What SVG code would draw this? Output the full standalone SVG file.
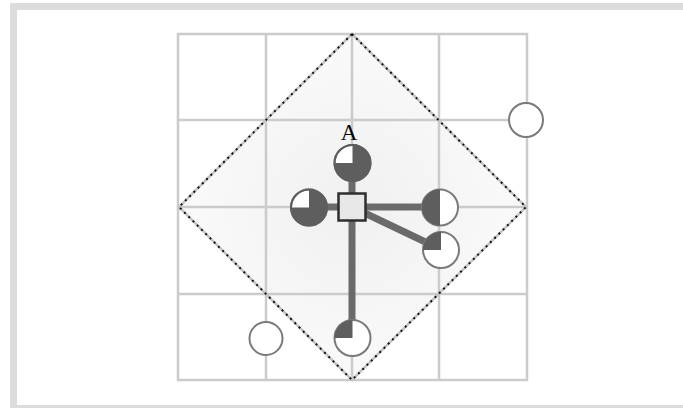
<svg xmlns="http://www.w3.org/2000/svg" width="683" height="408" viewBox="0 0 683 408">
<style>
.grid{stroke:#cbcbcb;stroke-width:2.5;fill:none}
.conn{stroke:#6a6a6a;stroke-width:7;fill:none}
.ring{fill:#ffffff;stroke:#7a7a7a;stroke-width:2}
.dark{fill:#5e5e5e}
.lbl{font-family:"Liberation Serif",serif;font-size:23px;fill:#000}
</style>
<defs>
<radialGradient id="dg" cx="0.5" cy="0.5" r="0.6">
<stop offset="0" stop-color="#f0f0f0"/>
<stop offset="1" stop-color="#fcfcfc"/>
</radialGradient>
</defs>
<rect width="683" height="408" fill="#ffffff"/>
<rect x="13.5" y="6.5" width="720" height="402" fill="none" stroke="#dcdcdc" stroke-width="7"/>
<g id="diamond-fill">
<polygon points="352,34 526,207 352,380 179,207" fill="url(#dg)"/>
</g>
<g id="grid">
<rect x="178" y="34" width="349" height="346" class="grid"/>
<line x1="266" y1="34" x2="266" y2="380" class="grid"/>
<line x1="352" y1="34" x2="352" y2="380" class="grid"/>
<line x1="439" y1="34" x2="439" y2="380" class="grid"/>
<line x1="178" y1="120" x2="527" y2="120" class="grid"/>
<line x1="178" y1="207" x2="527" y2="207" class="grid"/>
<line x1="178" y1="294" x2="527" y2="294" class="grid"/>
</g>
<g id="diamond">
<polygon points="352,34 526,207 352,380 179,207" fill="none" stroke="#c4c4c4" stroke-width="2.5"/>
<polygon points="352,34 526,207 352,380 179,207" fill="none" stroke="#111" stroke-width="2" stroke-dasharray="2 4"/>
</g>
<g id="connectors">
<line x1="352" y1="207" x2="352" y2="163" class="conn"/>
<line x1="352" y1="207" x2="309" y2="207" class="conn"/>
<line x1="352" y1="207" x2="440" y2="207" class="conn"/>
<line x1="352" y1="207" x2="438" y2="248" class="conn"/>
<line x1="352" y1="207" x2="352" y2="338" class="conn"/>
</g>
<g id="node-top">
<circle cx="352.5" cy="163" r="18" class="ring"/>
<path d="M352.5,163 L352.5,145 A18,18 0 1 1 334.5,163 Z" class="dark"/>
<circle cx="352.5" cy="163" r="18" fill="none" stroke="#5e5e5e" stroke-width="2"/>
</g>
<g id="node-left">
<circle cx="309" cy="207.5" r="18" class="ring"/>
<path d="M309,207.5 L309,189.5 A18,18 0 1 1 291,207.5 Z" class="dark"/>
<circle cx="309" cy="207.5" r="18" fill="none" stroke="#5e5e5e" stroke-width="2"/>
</g>
<g id="node-right">
<circle cx="440" cy="207.5" r="18" class="ring"/>
<path d="M440,189.5 A18,18 0 0 0 440,225.5 Z" class="dark"/>
</g>
<g id="node-lowright">
<circle cx="441" cy="250" r="18" class="ring"/>
<path d="M441,250 L423,250 A18,18 0 0 1 441,232 Z" class="dark"/>
</g>
<g id="node-bottom">
<circle cx="352.5" cy="338" r="18" class="ring"/>
<path d="M352.5,338 L334.5,338 A18,18 0 0 1 352.5,320 Z" class="dark"/>
</g>
<g id="node-empty-upper">
<circle cx="526" cy="120" r="17" class="ring"/>
</g>
<g id="node-empty-lower">
<circle cx="266" cy="338.5" r="16.5" class="ring"/>
</g>
<g id="node-center">
<rect x="338.5" y="193.5" width="27" height="27" fill="#e8e8e8" stroke="#2e2e2e" stroke-width="2.5"/>
</g>
<g id="label-A">
<text x="349" y="140" text-anchor="middle" class="lbl">A</text>
</g>
</svg>
